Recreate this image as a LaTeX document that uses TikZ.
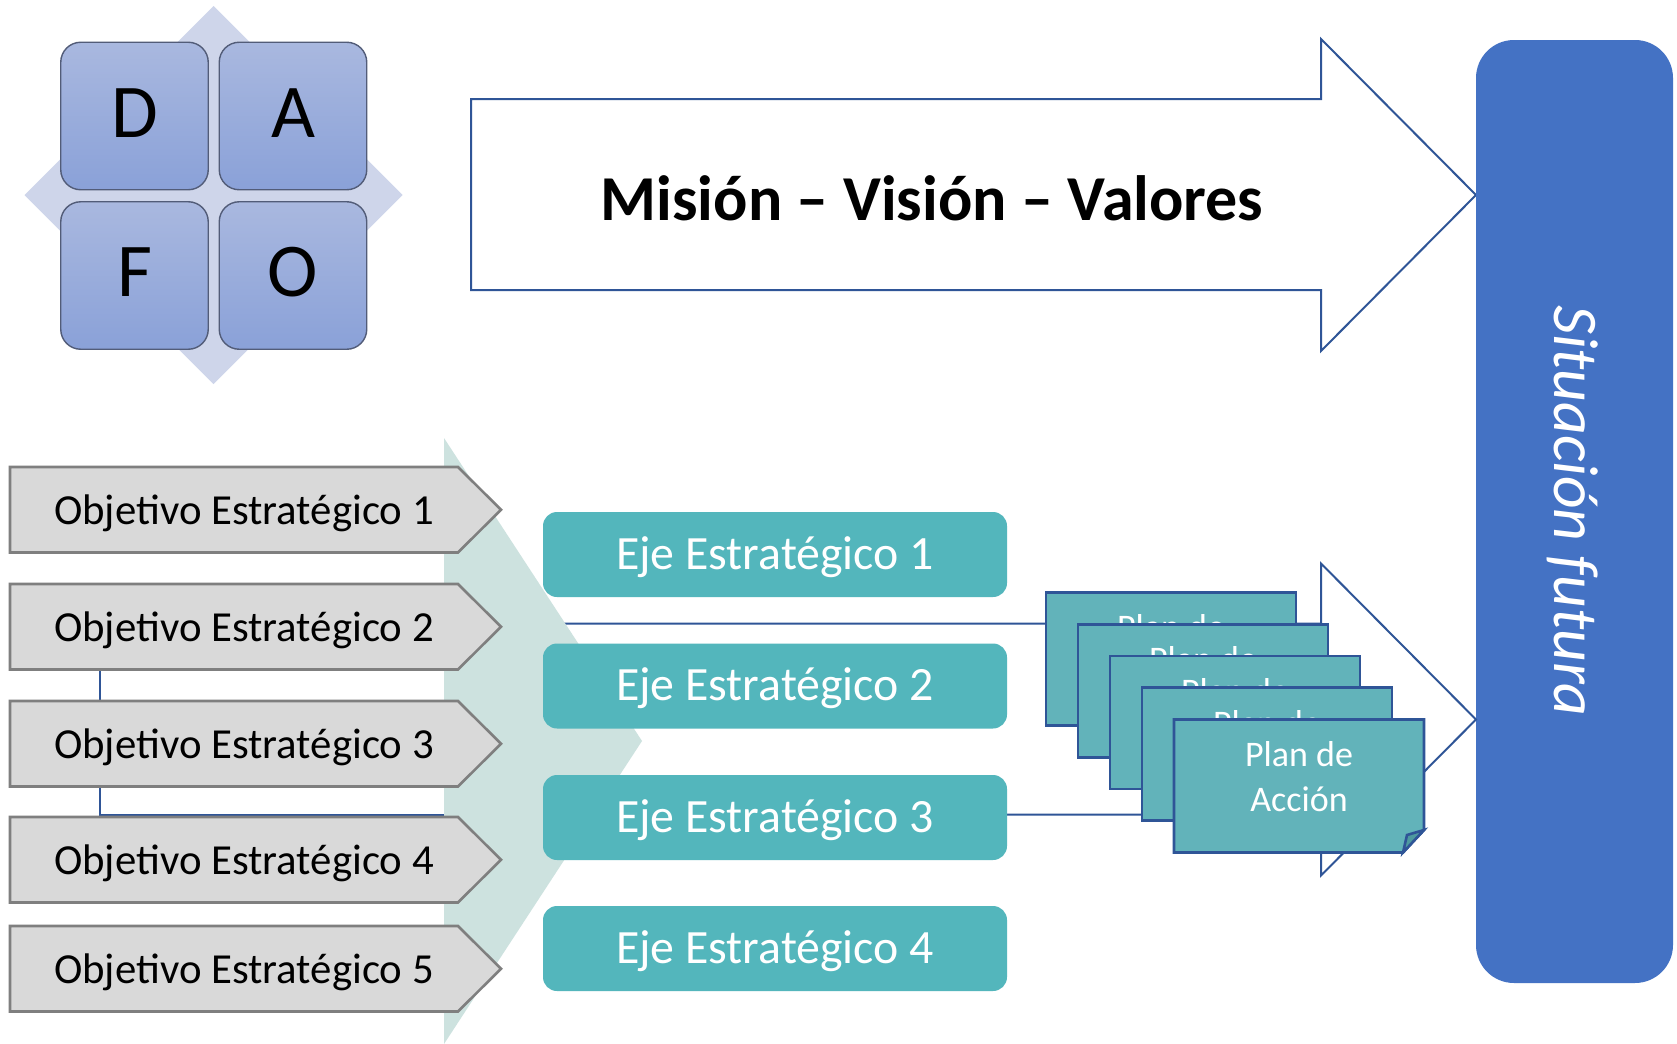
\documentclass[tikz,border=0pt]{standalone}
\usepackage{fontspec}
\setmainfont{Carlito}
\usetikzlibrary{calc}
\definecolor{arrowblue}{HTML}{2F5597}
\definecolor{sitblue}{HTML}{4472C4}
\definecolor{ejeteal}{HTML}{53B6BC}
\definecolor{planteal}{HTML}{62B3BA}
\definecolor{folddark}{HTML}{4E9A9F}
\definecolor{chevgreen}{HTML}{CDE2DF}
\definecolor{objfill}{HTML}{D9D9D9}
\definecolor{objline}{HTML}{7F7F7F}
\definecolor{dafotop}{HTML}{A9B8DF}
\definecolor{dafobot}{HTML}{8AA1D8}
\definecolor{dafoline}{HTML}{525C78}
\definecolor{diamondfill}{HTML}{CED5EA}
\begin{document}
\begin{tikzpicture}[x=0.5pt,y=-0.5pt,
  dafosq/.style={rectangle, rounded corners=10pt, minimum width=73.75pt, minimum height=73.75pt,
    top color=dafotop, bottom color=dafobot, draw=dafoline, line width=0.7pt,
    inner sep=0pt, outer sep=0pt, font=\fontsize{38}{40}\selectfont, text height=21pt, text depth=0pt},
  bigarrow/.style={fill=white, draw=arrowblue, line width=1pt, line join=miter},
  sitbox/.style={rectangle, rounded corners=19pt, fill=sitblue, minimum width=98.5pt,
    minimum height=471.5pt, inner sep=0pt, outer sep=0pt},
  conn/.style={draw=arrowblue, line width=1pt},
  objbox/.style={fill=objfill, draw=objline, line width=1.3pt, line join=miter},
  objtext/.style={font=\fontsize{21.4}{25}\selectfont, text height=16.2pt, text depth=1.2pt, inner sep=0pt},
  ejebox/.style={rectangle, rounded corners=7pt, fill=ejeteal, minimum width=232pt, minimum height=42.5pt,
    inner sep=0pt, outer sep=0pt, text=white, font=\fontsize{23.9}{28}\selectfont, text height=17.2pt, text depth=2.5pt},
  planbox/.style={rectangle, fill=planteal, draw=arrowblue, line width=1.3pt, minimum width=125pt,
    minimum height=66.5pt, inner sep=0pt, outer sep=0pt},
  plantext/.style={text=white, align=center, font=\fontsize{18}{22.5}\selectfont, inner sep=0pt}
]
\useasboundingbox (0,0) rectangle (1677,1044);
\fill[white] (0,0) rectangle (1677,1044);

% DAFO
\fill[diamondfill] (213.5,6) -- (402.5,195) -- (213.5,384) -- (24.5,195) -- cycle;
\node[dafosq] (d) at (134.5,116) {D};
\node[dafosq] (a) at (293,116) {A};
\node[dafosq] (f) at (134.5,275.5) {F};
\node[dafosq] (o) at (293,275.5) {O};

% Mision arrow
\draw[bigarrow] (471,99) -- (1321,99) -- (1321,39) -- (1476,195) -- (1321,351) -- (1321,290) -- (471,290) -- cycle;
\node[anchor=base, font=\bfseries\fontsize{32}{36}\selectfont] (mvv) at (932,220) {Misión – Visión – Valores};

% Situacion futura
\node[sitbox] (sit) at (1574.5,511.5) {};
\node[rotate=-90, anchor=base, text=white, font=\itshape\fontsize{31.8}{36}\selectfont] (sittext) at (1554,511) {Situación futura};

% second arrow (behind)
\draw[bigarrow] (471,623.5) -- (1321,623.5) -- (1321,563.5) -- (1476,719.5) -- (1321,875.5) -- (1321,814.5) -- (471,814.5) -- cycle;

% connector
\coordinate (o2foot) at (100,670);
\coordinate (a2corner) at (471,814.5);
\draw[conn] (o2foot) |- (a2corner);

% chevron background
\fill[chevgreen] (444,438) -- (642,741) -- (444,1044) -- cycle;

% objectives
\foreach \t/\n in {467/1,584/2,701/3,817/4,926/5}{
  \draw[objbox] (10,\t) -- (458,\t) -- (501,\t+42.75) -- (458,\t+85.5) -- (10,\t+85.5) -- cycle;
  \node[objtext] (obj\n) at (244,\t+42.75) {Objetivo Estratégico \n};
}

% ejes
\node[ejebox] (e1) at (775,554.5) {Eje Estratégico 1};
\node[ejebox] (e2) at (775,686) {Eje Estratégico 2};
\node[ejebox] (e3) at (775,817.5) {Eje Estratégico 3};
\node[ejebox] (e4) at (775,948.5) {Eje Estratégico 4};

% planes
\node[planbox] (p1) at (1171,659) {};
\node[plantext] (pt1) at (1171,650) {Plan de\\Acción};
\node[planbox] (p2) at (1203,690.75) {};
\node[plantext] (pt2) at (1203,681.75) {Plan de\\Acción};
\node[planbox] (p3) at (1235,722.5) {};
\node[plantext] (pt3) at (1235,713.5) {Plan de\\Acción};
\node[planbox] (p4) at (1267,754.25) {};
\node[plantext] (pt4) at (1267,745.25) {Plan de\\Acción};
\filldraw[fill=planteal, draw=arrowblue, line width=1.3pt, line join=miter]
  (1174,719.5) -- (1424,719.5) -- (1424,830) -- (1403,852.5) -- (1174,852.5) -- cycle;
\filldraw[fill=folddark, draw=arrowblue, line width=1.3pt, line join=miter]
  (1403,852.5) -- (1407,835) -- (1424,830) -- cycle;
\coordinate (p5) at (1299,786);
\node[plantext] (pt5) at (1299,777) {Plan de\\Acción};
\end{tikzpicture}
\end{document}
